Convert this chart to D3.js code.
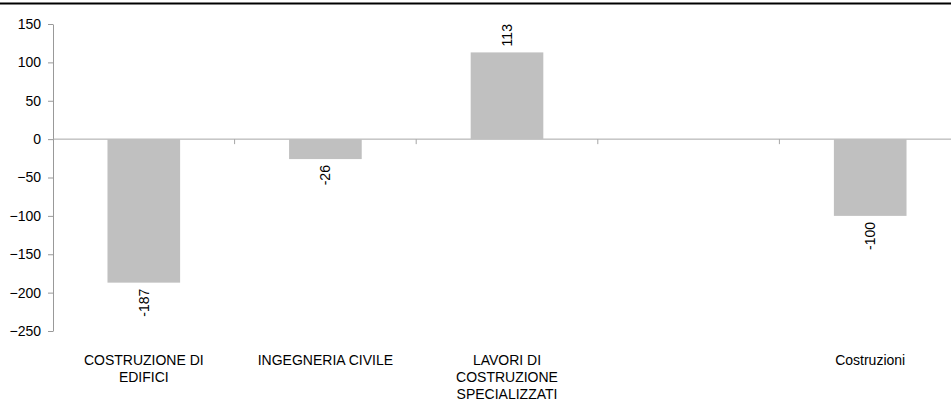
<!DOCTYPE html>
<html>
<head>
<meta charset="utf-8">
<script src="https://cdn.jsdelivr.net/npm/d3@7"></script>
<style>
  body { margin: 0; background: #fff; }
  svg { display: block; font-family: "Liberation Sans", Arial, sans-serif; }
</style>
</head>
<body>
<div id="chart"></div>
<script>
// data
var categories = ["COSTRUZIONE DI EDIFICI", "INGEGNERIA CIVILE", "LAVORI DI COSTRUZIONE SPECIALIZZATI", "", "Costruzioni"];
var values = [-187, -26, 113, null, -100];
var yTicks = [150, 100, 50, 0, -50, -100, -150, -200, -250];

var width = 951, height = 409;
var margin = {top: 24, right: -10, bottom: 78, left: 53};
var fs = 14;

var svg = d3.select("#chart").append("svg")
    .attr("width", width)
    .attr("height", height);

// line left over from the title block at the very top
svg.append("line")
    .attr("x1", 0).attr("x2", width)
    .attr("y1", 3.5).attr("y2", 3.5)
    .attr("stroke", "#000").attr("stroke-width", 2);

var x = d3.scaleBand()
    .domain(d3.range(categories.length))
    .range([margin.left, width - margin.right]);

var y = d3.scaleLinear()
    .domain([-250, 150])
    .range([height - margin.bottom, margin.top]);

// y axis
var yAxis = svg.append("g")
    .attr("transform", "translate(" + margin.left + ",0)")
    .call(d3.axisLeft(y).tickValues(yTicks).tickSize(5).tickPadding(7).tickSizeOuter(0));
yAxis.select(".domain").attr("stroke", "#999");
yAxis.selectAll(".tick line").attr("stroke", "#999");
yAxis.selectAll(".tick text").attr("font-size", fs).attr("fill", "#000")
    .attr("font-family", "Liberation Sans, Arial, sans-serif");

// zero line with category ticks
svg.append("line")
    .attr("x1", margin.left).attr("x2", width)
    .attr("y1", y(0)).attr("y2", y(0))
    .attr("stroke", "#a6a6a6");
svg.append("g").selectAll("line")
    .data(d3.range(1, categories.length))
    .enter().append("line")
      .attr("x1", function(d) { return x(d); })
      .attr("x2", function(d) { return x(d); })
      .attr("y1", y(0)).attr("y2", y(0) + 5)
      .attr("stroke", "#a6a6a6");

// bars
var barW = x.bandwidth() * 0.4;
var data = values.map(function(v, i) { return {i: i, v: v}; }).filter(function(d) { return d.v !== null; });

svg.append("g").selectAll("rect")
    .data(data)
    .enter().append("rect")
      .attr("x", function(d) { return x(d.i) + x.bandwidth() / 2 - barW / 2; })
      .attr("width", barW)
      .attr("y", function(d) { return y(Math.max(0, d.v)); })
      .attr("height", function(d) { return Math.abs(y(d.v) - y(0)); })
      .attr("fill", "#c0c0c0");

// value labels, rotated
svg.append("g").selectAll("text")
    .data(data)
    .enter().append("text")
      .attr("transform", function(d) {
        var cx = x(d.i) + x.bandwidth() / 2;
        var cy = d.v >= 0 ? y(d.v) - 6 : y(d.v) + 6;
        return "translate(" + (cx + 5) + "," + cy + ") rotate(-90)";
      })
      .attr("text-anchor", function(d) { return d.v >= 0 ? "start" : "end"; })
      .attr("font-size", fs)
      .text(function(d) { return d.v; });

// category labels with wrapping
function wrapWords(str, maxW) {
  var words = str.split(" "), lines = [], cur = "";
  var tmp = svg.append("text").attr("font-size", fs);
  words.forEach(function(w) {
    var test = cur ? cur + " " + w : w;
    tmp.text(test);
    if (tmp.node().getComputedTextLength() > maxW && cur) {
      lines.push(cur);
      cur = w;
    } else {
      cur = test;
    }
  });
  if (cur) lines.push(cur);
  tmp.remove();
  return lines;
}

var catG = svg.append("g");
categories.forEach(function(c, i) {
  if (!c) return;
  var lines = wrapWords(c, 140);
  var t = catG.append("text")
      .attr("text-anchor", "middle")
      .attr("font-size", fs)
      .attr("x", x(i) + x.bandwidth() / 2)
      .attr("y", 365);
  lines.forEach(function(l, k) {
    t.append("tspan")
      .attr("x", x(i) + x.bandwidth() / 2)
      .attr("dy", k === 0 ? 0 : 17)
      .text(l);
  });
});
</script>
</body>
</html>
